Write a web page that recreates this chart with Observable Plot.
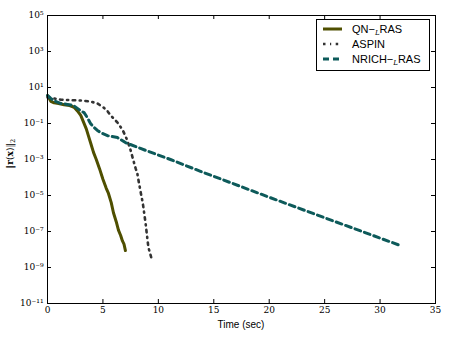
<!DOCTYPE html>
<html><head><meta charset="utf-8">
<script src="https://cdn.jsdelivr.net/npm/d3@7"></script>
<script src="https://cdn.jsdelivr.net/npm/@observablehq/plot@0.6"></script>
<style>body{margin:0;background:#fff;} svg{display:block;}</style>
</head><body>
<script>
// ---- data ----
const qnTime = [0, 0.15, 0.3, 0.6, 1.0, 1.5, 2.0, 2.4, 2.7, 3.0, 3.25, 3.5, 3.7, 3.9, 4.15, 4.4, 4.7, 5.0, 5.3, 5.5, 5.75, 5.95, 6.2, 6.4, 6.6, 6.76, 6.9, 7.03];
const qnRes  = [3.6, 2.5, 1.7, 1.4, 1.3, 1.1, 1.0, 0.8, 0.5, 0.28, 0.12, 0.05, 0.02, 8e-3, 2.5e-3, 1e-3, 3e-4, 8e-5, 2.5e-5, 1.3e-5, 4e-6, 1.1e-6, 3.5e-7, 1.2e-7, 6e-8, 3e-8, 2e-8, 8.7e-9];

const aspinTime = [0, 0.5, 1.2, 2.0, 3.0, 3.8, 4.5, 5.05, 5.4, 5.7, 6.0, 6.3, 6.55, 6.8, 7.0, 7.2, 7.5, 7.75, 7.95, 8.1, 8.25, 8.4, 8.6, 8.85, 9.1, 9.25, 9.38];
const aspinRes  = [2.8, 2.5, 2.1, 2.0, 1.9, 1.7, 1.3, 0.78, 0.5, 0.28, 0.18, 0.115, 0.07, 0.041, 0.022, 0.0115, 3.2e-3, 8.7e-4, 3.2e-4, 1.7e-4, 5e-5, 1.6e-5, 3.6e-6, 2.8e-7, 1.3e-8, 6.3e-9, 3.2e-9];

const nrichTime = [0, 0.3, 0.54, 1.17, 1.8, 2.34, 2.98, 3.3, 3.6, 3.88, 4.2, 4.5, 5.0, 5.41, 6.31, 7.03, 8.39, 11.09, 13.8, 20, 25, 31.83];
const nrichRes  = [3.6, 2.5, 1.9, 1.3, 1.15, 1.0, 0.52, 0.4, 0.21, 0.1, 0.06, 0.041, 0.027, 0.021, 0.0166, 8.7e-3, 4.1e-3, 1e-3, 2.2e-4, 8e-6, 5.8e-7, 1.66e-8];

const seriesNames = ["QN", "ASPIN", "NRICH"];
const seriesColors = ["#4f4f00", "#333333", "#0d5a5a"];

const xTicks = [0, 5, 10, 15, 20, 25, 30, 35];
const yTicks = [1e5, 1e3, 1e1, 1e-1, 1e-3, 1e-5, 1e-7, 1e-9, 1e-11];
const yTickLabels = ["10\u2075", "10\u00b3", "10\u00b9", "10\u207b\u00b9", "10\u207b\u00b3", "10\u207b\u2075", "10\u207b\u2077", "10\u207b\u2079", "10\u207b\u00b9\u00b9"];
const xLabel = "Time (sec)";

// ---- build tables ----
const mk = (ts, rs) => ts.map((t, i) => ({t, r: rs[i]}));
const qn = mk(qnTime, qnRes);
const aspin = mk(aspinTime, aspinRes);
const nrich = mk(nrichTime, nrichRes);
const yLabelMap = new Map(yTicks.map((v, i) => [v, yTickLabels[i]]));

const W = 450, H = 338, mL = 47, mR = 15, mT = 15, mB = 35;
const pw = W - mL - mR, ph = H - mT - mB;
const aspinDash = "2.5,4.5,1.2,4.5";

const svg = Plot.plot({
  width: W, height: H,
  marginLeft: mL, marginRight: mR, marginTop: mT, marginBottom: mB,
  style: {background: "white", fontFamily: "'DejaVu Serif', serif", fontSize: "9px", color: "black"},
  x: {domain: [0, 35]},
  y: {type: "log", domain: [1e-11, 1e5]},
  marks: [
    Plot.line(qn, {x: "t", y: "r", stroke: seriesColors[0], strokeWidth: 3}),
    Plot.line(aspin, {x: "t", y: "r", stroke: seriesColors[1], strokeWidth: 2.6, strokeDasharray: aspinDash}),
    Plot.line(nrich, {x: "t", y: "r", stroke: seriesColors[2], strokeWidth: 3, strokeDasharray: "6,4"}),
    Plot.frame({stroke: "black", strokeWidth: 1}),
    Plot.tickX(xTicks, {x: d => d, insetTop: ph - 4, stroke: "black"}),
    Plot.tickX(xTicks, {x: d => d, insetBottom: ph - 4, stroke: "black"}),
    Plot.tickY(yTicks, {y: d => d, insetRight: pw - 4, stroke: "black"}),
    Plot.tickY(yTicks, {y: d => d, insetLeft: pw - 4, stroke: "black"}),
    Plot.axisX(xTicks, {tickSize: 0, tickPadding: 3, label: null, tickFormat: d => String(d)}),
    Plot.axisY(yTicks, {tickSize: 0, tickPadding: 4, label: null, tickFormat: d => yLabelMap.get(d)})
  ]
});
document.body.appendChild(svg);

const s = d3.select(svg);
// x label
s.append("text").attr("x", mL + pw / 2).attr("y", 328)
  .attr("text-anchor", "middle").attr("font-family", "'Liberation Sans', Arial, sans-serif")
  .attr("font-size", 10).attr("fill", "black").text(xLabel);

// y label ‖r(x)‖₂
const yl = s.append("text").attr("transform", `translate(13,${mT + ph / 2 - 5}) rotate(-90)`)
  .attr("text-anchor", "middle").attr("font-family", "'DejaVu Serif', serif")
  .attr("font-size", 9).attr("fill", "black");
yl.append("tspan").text("\u2016");
yl.append("tspan").attr("font-weight", "bold").text("r");
yl.append("tspan").text("(");
yl.append("tspan").attr("font-weight", "bold").text("x");
yl.append("tspan").text(")\u2016");
yl.append("tspan").attr("font-size", 6.5).attr("dy", 2).text("2");

// legend
const lg = s.append("g");
lg.append("rect").attr("x", 316.5).attr("y", 19.5).attr("width", 113).attr("height", 51)
  .style("fill", "#ffffff").style("stroke", "#000000").style("stroke-width", "1px");
const rows = [
  {name: seriesNames[0], sub: true, dash: null, w: 3},
  {name: seriesNames[1], sub: false, dash: aspinDash, w: 2.6},
  {name: seriesNames[2], sub: true, dash: "6,4", w: 3}
];
rows.forEach((r, i) => {
  const y = 29 + i * 15;
  const ln = lg.append("line").attr("x1", 323).attr("x2", 342).attr("y1", y).attr("y2", y)
    .attr("stroke", seriesColors[i]).attr("stroke-width", r.w);
  if (r.dash) ln.attr("stroke-dasharray", r.dash);
  const t = lg.append("text").attr("x", 352).attr("y", y + 4).attr("text-anchor", "start")
    .attr("font-family", "'Liberation Sans', Arial, sans-serif").attr("font-size", 11).attr("fill", "black");
  if (r.sub) {
    t.append("tspan").text(r.name + "\u2212");
    t.append("tspan").attr("font-style", "italic").attr("font-family", "'DejaVu Serif', serif")
      .attr("font-size", 7).attr("dy", 2).text("L");
    t.append("tspan").attr("dy", -2).text("RAS");
  } else {
    t.text(r.name);
  }
});
</script>
</body></html>
